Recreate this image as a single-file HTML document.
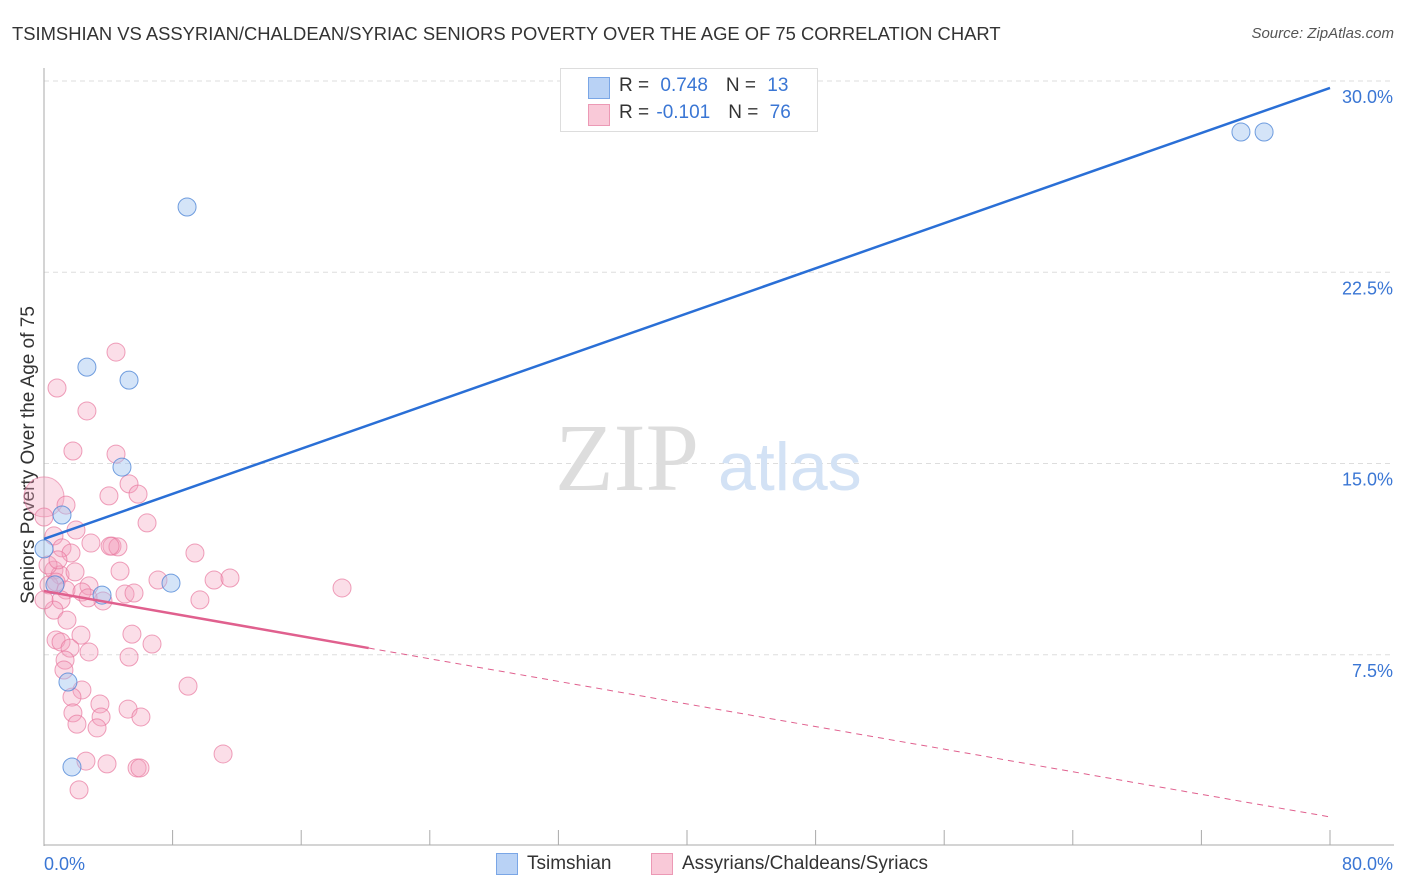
<!DOCTYPE html>
<html><head><meta charset="utf-8"><style>
body{margin:0;background:#fff;font-family:"Liberation Sans",sans-serif;}
#wrap{position:relative;width:1406px;height:892px;overflow:hidden;}
.t{position:absolute;white-space:nowrap;}
</style></head><body>
<div id="wrap">
<div class="t" style="left:12px;top:23px;font-size:18.4px;color:#333;">TSIMSHIAN VS ASSYRIAN/CHALDEAN/SYRIAC SENIORS POVERTY OVER THE AGE OF 75 CORRELATION CHART</div>
<div class="t" style="right:12px;top:25px;font-size:15px;color:#555;font-style:italic;">Source: ZipAtlas.com</div>
<svg id="svg" width="1406" height="892" style="position:absolute;left:0;top:0"></svg>
</div>
<script>
const blueX=[8.9,2.67,5.29,4.85,1.12,0,0.68,7.9,3.61,1.49,1.74,74.46,75.9];
const blueY=[25.06,18.78,18.27,14.86,12.98,11.65,10.24,10.31,9.84,6.43,3.10,28.0,28.0];
const pinkX=[4.48,0.81,2.67,1.80,4.48,5.29,4.04,5.85,1.37,6.41,0,1.99,0.62,2.92,4.23,4.60,1.12,1.68,9.39,4.73,7.09,10.58,11.57,18.54,0.62,1.0,1.93,2.80,0.31,0.75,1.37,2.36,5.04,5.60,3.67,1.06,2.74,9.70,0.62,0,1.43,5.47,6.72,2.30,0.75,1.06,1.62,2.80,5.29,1.31,1.24,8.96,2.36,1.74,3.48,5.23,6.03,1.80,3.55,2.05,3.30,11.14,2.61,3.92,5.79,5.97,2.18,4.11,0.25,0.87];
const pinkY=[19.37,17.96,17.06,15.49,15.37,14.20,13.73,13.80,13.37,12.67,12.90,12.39,12.16,11.88,11.76,11.73,11.69,11.49,11.49,10.78,10.43,10.43,10.51,10.12,10.82,10.63,10.75,10.20,10.24,10.35,10.04,9.96,9.88,9.92,9.61,9.65,9.73,9.65,9.25,9.65,8.86,8.31,7.92,8.27,8.08,8.0,7.76,7.61,7.41,7.29,6.90,6.27,6.12,5.84,5.57,5.37,5.06,5.22,5.06,4.78,4.63,3.61,3.33,3.22,3.06,3.06,2.20,11.76,11.02,11.22];
const bigPink=[0,13.69];
const blueTrend=[12.04,29.73];
const pinkTrend=[10.0,1.14];
const pinkSolidEnd=20.2;
const yTicks=[7.5,15,22.5,30];
const yTickLabels=["7.5%","15.0%","22.5%","30.0%"];
const xTicks=[0,8,16,24,32,40,48,56,64,72,80];

const NS="http://www.w3.org/2000/svg";
const svg=document.getElementById('svg');
const X=v=>44+v*(1330-44)/80;
const Y=v=>846-v*25.5;
function mk(tag,a,name){const e=document.createElementNS(NS,tag);for(const k in a)e.setAttribute(k,a[k]);


svg.appendChild(e);return e;}
yTicks.forEach((v,i)=>{
 mk('line',{x1:44,x2:1394,y1:Y(v),y2:Y(v),stroke:'#ddd','stroke-dasharray':'5,4'},'gridline');
 const t=mk('text',{x:1393,y:Y(v)+22,'text-anchor':'end','font-size':18,fill:'#3a76d4','font-family':'Liberation Sans'},'y-tick-label');t.textContent=yTickLabels[i];
});
mk('line',{x1:44,x2:44,y1:68,y2:846,stroke:'#aaa'},'y-axis');
mk('line',{x1:44,x2:1394,y1:845,y2:845,stroke:'#aaa'},'x-axis');
xTicks.forEach(v=>mk('line',{x1:X(v),x2:X(v),y1:830,y2:845,stroke:'#aaa'},'x-tick'));
let t=mk('text',{x:44,y:870,'font-size':18,fill:'#3a76d4','font-family':'Liberation Sans'},'x-min-label');t.textContent='0.0%';
t=mk('text',{x:1393,y:870,'text-anchor':'end','font-size':18,fill:'#3a76d4','font-family':'Liberation Sans'},'x-max-label');t.textContent='80.0%';
t=mk('text',{transform:'translate(34,455) rotate(-90)','text-anchor':'middle','font-size':19,fill:'#333','font-family':'Liberation Sans'},'y-axis-title');t.textContent='Seniors Poverty Over the Age of 75';
t=mk('text',{x:555,y:490,'font-size':96,fill:'#ddd','font-family':'Liberation Serif'},'watermark-zip');t.textContent='ZIP';
t=mk('text',{x:718,y:490,'font-size':68,fill:'#d3e2f5','font-family':'Liberation Sans'},'watermark-atlas');t.textContent='atlas';
mk('circle',{cx:X(bigPink[0]),cy:Y(bigPink[1]),r:20,fill:'rgba(244,160,190,0.35)',stroke:'rgba(232,120,158,0.6)'},'pink-point-large');
pinkX.forEach((x,i)=>mk('circle',{cx:X(x),cy:Y(pinkY[i]),r:9,fill:'rgba(244,160,190,0.35)',stroke:'rgba(232,120,158,0.7)'},'pink-point'));
blueX.forEach((x,i)=>mk('circle',{cx:X(x),cy:Y(blueY[i]),r:9,fill:'rgba(160,195,240,0.45)',stroke:'rgba(80,135,215,0.8)'},'blue-point'));
mk('line',{x1:X(0),y1:Y(blueTrend[0]),x2:X(80),y2:Y(blueTrend[1]),stroke:'#2a6fd6','stroke-width':2.5},'blue-trend-line');
const pv=x=>pinkTrend[0]+(pinkTrend[1]-pinkTrend[0])*x/80;
mk('line',{x1:X(0),y1:Y(pv(0)),x2:X(pinkSolidEnd),y2:Y(pv(pinkSolidEnd)),stroke:'#e0608e','stroke-width':2.5},'pink-trend-line');
mk('line',{x1:X(pinkSolidEnd),y1:Y(pv(pinkSolidEnd)),x2:X(80),y2:Y(pv(80)),stroke:'#e0608e','stroke-width':1,'stroke-dasharray':'6,5'},'pink-trend-extension');
</script>
<div class="t" style="left:560px;top:68px;width:256px;height:62px;border:1px solid #ddd;background:#fff;font-size:19px;color:#333;">
 <div style="position:absolute;left:27px;top:8px;width:20px;height:20px;background:#b9d2f5;border:1px solid #7aa6e6;"></div>
 <div class="t" style="left:58px;top:6px;">R = <span style="color:#3a76d4;margin-left:6px">0.748</span><span style="margin-left:18px">N = </span><span style="color:#3a76d4;margin-left:6px">13</span></div>
 <div style="position:absolute;left:27px;top:35px;width:20px;height:20px;background:#f9c9d8;border:1px solid #ec99b5;"></div>
 <div class="t" style="left:58px;top:33px;">R = <span style="color:#3a76d4;margin-left:2px">-0.101</span><span style="margin-left:18px">N = </span><span style="color:#3a76d4;margin-left:6px">76</span></div>
</div>
<div style="position:absolute;left:496px;top:853px;width:20px;height:20px;background:#b9d2f5;border:1px solid #7aa6e6;"></div>
<div class="t" style="left:527px;top:853px;font-size:19px;color:#333;">Tsimshian</div>
<div style="position:absolute;left:651px;top:853px;width:20px;height:20px;background:#f9c9d8;border:1px solid #ec99b5;"></div>
<div class="t" style="left:682px;top:853px;font-size:19px;color:#333;">Assyrians/Chaldeans/Syriacs</div>
</body></html>
